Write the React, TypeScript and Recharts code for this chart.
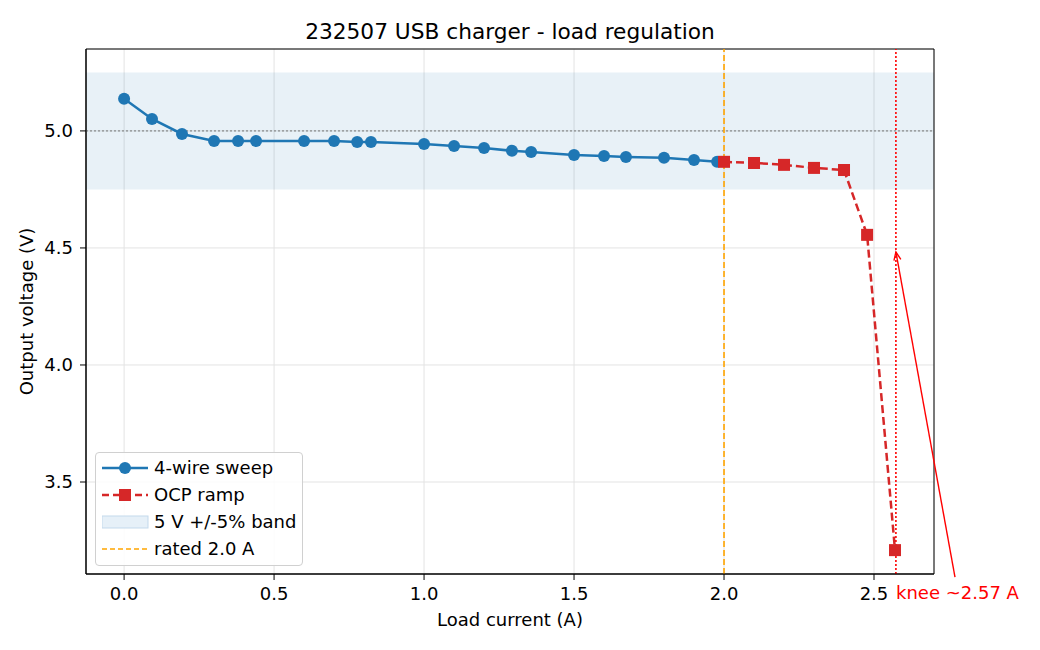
import {
  ComposedChart,
  Line,
  XAxis,
  YAxis,
  CartesianGrid,
  ReferenceArea,
  ReferenceLine,
} from "recharts";

// 4-wire sweep
const sweepCurrent = [
  0, 0.093, 0.193, 0.3, 0.38, 0.44, 0.6, 0.7, 0.777, 0.823, 1.0, 1.1, 1.2,
  1.293, 1.357, 1.5, 1.6, 1.673, 1.8, 1.9, 1.977,
];
const sweepVoltage = [
  5.137, 5.051, 4.987, 4.957, 4.957, 4.957, 4.957, 4.957, 4.953, 4.953, 4.944,
  4.936, 4.927, 4.915, 4.91, 4.897, 4.893, 4.889, 4.885, 4.876, 4.868,
];

// OCP ramp
const ocpCurrent = [2.0, 2.1, 2.2, 2.3, 2.4, 2.477, 2.57];
const ocpVoltage = [4.868, 4.863, 4.855, 4.842, 4.833, 4.556, 3.209];

const xTicks = [0, 0.5, 1.0, 1.5, 2.0, 2.5];
const yTicks = [3.5, 4.0, 4.5, 5.0];

const X_MIN = -0.127;
const X_MAX = 2.7;
const Y_MIN = 3.107;
const Y_MAX = 5.35;

const NOMINAL = 5.0;
const BAND_LO = 4.75;
const BAND_HI = 5.25;
const RATED = 2.0;
const KNEE = 2.573;
const KNEE_ARROW_TIP = 4.483;
const KNEE_TEXT_X = 2.77;
const KNEE_TEXT_Y = 3.094;

const sweepData = sweepCurrent.map((x, i) => ({ x, v: sweepVoltage[i] }));
const ocpData = ocpCurrent.map((x, i) => ({ x, v: ocpVoltage[i] }));

const FONT = "DejaVu Sans, sans-serif";
const FS = 18;
const BLUE = "#1f77b4";
const RED = "#d62728";

const SquareDot = (props: any) => {
  const { cx, cy } = props;
  if (cx == null || cy == null) return null;
  return <rect x={cx - 6} y={cy - 6} width={12} height={12} fill={RED} />;
};

const KneeArrow = (props: any) => {
  const { x1, y1, x2, y2 } = props;
  if (x1 == null) return null;
  const ang = Math.atan2(y2 - y1, x2 - x1);
  const L = 9;
  const a1 = ang + Math.PI - 0.4;
  const a2 = ang + Math.PI + 0.4;
  return (
    <g>
      <line x1={x1} y1={y1} x2={x2} y2={y2} stroke="red" strokeWidth={1.4} />
      <polyline
        points={`${x2 + L * Math.cos(a1)},${y2 + L * Math.sin(a1)} ${x2},${y2} ${
          x2 + L * Math.cos(a2)
        },${y2 + L * Math.sin(a2)}`}
        fill="none"
        stroke="red"
        strokeWidth={1.4}
      />
      <text
        x={x1 - 59}
        y={y1 + 15}
        textAnchor="start"
        dominantBaseline="central"
        fill="red"
        fontSize={FS}
        fontFamily={FONT}
      >
        knee ~2.57 A
      </text>
    </g>
  );
};

const LegendBox = () => (
  <div
    style={{
      position: "absolute",
      left: 95,
      top: 452,
      border: "1px solid #d0d0d0",
      borderRadius: 4,
      background: "rgba(255,255,255,0.85)",
      padding: "4px 6px",
      fontFamily: FONT,
      color: "#000",
      width: 194,
      height: 104,
    }}
  >
    <svg width={194} height={104} style={{ display: "block" }}>
      <g transform="translate(0,11)">
        <line x1={0} y1={0} x2={46} y2={0} stroke={BLUE} strokeWidth={2.5} />
        <circle cx={23} cy={0} r={6} fill={BLUE} />
        <text x={52} y={6} fontSize={FS} fontFamily={FONT}>4-wire sweep</text>
      </g>
      <g transform="translate(0,38)">
        <line x1={0} y1={0} x2={46} y2={0} stroke={RED} strokeWidth={2.5} strokeDasharray="7 4" />
        <rect x={17} y={-6} width={12} height={12} fill={RED} />
        <text x={52} y={6} fontSize={FS} fontFamily={FONT}>OCP ramp</text>
      </g>
      <g transform="translate(0,65)">
        <rect x={0} y={-6} width={46} height={12} fill="#e6f0f8" stroke="#c3d9ec" />
        <text x={52} y={6} fontSize={FS} fontFamily={FONT}>5 V +/-5% band</text>
      </g>
      <g transform="translate(0,92)">
        <line x1={0} y1={0} x2={46} y2={0} stroke="orange" strokeWidth={1.6} strokeDasharray="5 3" />
        <text x={52} y={6} fontSize={FS} fontFamily={FONT}>rated 2.0 A</text>
      </g>
    </svg>
  </div>
);

export default function App() {
  return (
    <div style={{ position: "absolute", left: 0, top: 0, width: 1040, height: 650, background: "#fff" }}>
      <div
        style={{
          position: "absolute",
          top: 19,
          width: 1020,
          textAlign: "center",
          fontFamily: FONT,
          fontSize: 21.7,
        }}
      >
        232507 USB charger - load regulation
      </div>
      <ComposedChart
        width={1040}
        height={650}
        margin={{ top: 49, right: 106, left: 0, bottom: 0 }}
        style={{ fontFamily: FONT }}
      >
        <ReferenceArea
          x1={X_MIN}
          x2={X_MAX}
          y1={BAND_LO}
          y2={BAND_HI}
          fill="#1f77b4"
          fillOpacity={0.1}
          stroke="none"
        />
        <CartesianGrid stroke="#e3e3e3" strokeWidth={1} />
        <XAxis
          type="number"
          dataKey="x"
          domain={[X_MIN, X_MAX]}
          ticks={xTicks}
          tickFormatter={(v: number) => v.toFixed(1)}
          allowDataOverflow
          height={76}
          stroke="#000"
          tick={{ fill: "#000", fontSize: FS }}
          tickSize={6}
          tickMargin={7}
          label={{ value: "Load current (A)", position: "insideTop", offset: 39, fill: "#000", fontSize: FS }}
        />
        <YAxis
          type="number"
          dataKey="v"
          domain={[Y_MIN, Y_MAX]}
          ticks={yTicks}
          tickFormatter={(v: number) => v.toFixed(1)}
          allowDataOverflow
          width={86}
          stroke="#000"
          tick={{ fill: "#000", fontSize: FS }}
          tickSize={6}
          tickMargin={7}
          label={{
            value: "Output voltage (V)",
            angle: -90,
            position: "insideLeft",
            offset: 27,
            fill: "#000",
            fontSize: FS,
            style: { textAnchor: "middle" },
          }}
        />
        <ReferenceLine y={NOMINAL} stroke="#777" strokeDasharray="2 2" strokeWidth={1} />
        <ReferenceLine x={RATED} stroke="orange" strokeDasharray="6 3" strokeWidth={1.6} />
        <ReferenceLine x={KNEE} stroke="red" strokeDasharray="2 2" strokeWidth={1.6} />
        <Line
          data={sweepData}
          dataKey="v"
          stroke={BLUE}
          strokeWidth={2.5}
          dot={{ r: 6, fill: BLUE, stroke: BLUE, strokeWidth: 0 }}
          isAnimationActive={false}
          name="4-wire sweep"
        />
        <Line
          data={ocpData}
          dataKey="v"
          stroke={RED}
          strokeWidth={2.5}
          strokeDasharray="8 4"
          dot={<SquareDot />}
          isAnimationActive={false}
          name="OCP ramp"
        />
        <ReferenceArea
          x1={X_MIN}
          x2={X_MAX}
          y1={Y_MIN}
          y2={Y_MAX}
          fill="none"
          stroke="#000"
          strokeWidth={1}
        />
        <ReferenceLine
          segment={[
            { x: KNEE_TEXT_X, y: KNEE_TEXT_Y },
            { x: KNEE, y: KNEE_ARROW_TIP },
          ]}
          ifOverflow="visible"
          shape={<KneeArrow />}
        />
      </ComposedChart>
      <LegendBox />
    </div>
  );
}
